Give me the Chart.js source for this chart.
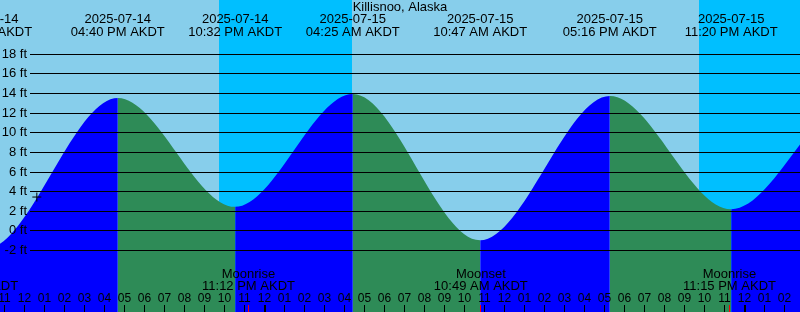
<!DOCTYPE html>
<html>
<head>
<meta charset="utf-8">
<script src="https://cdn.jsdelivr.net/npm/chart.js@4.4.1/dist/chart.umd.min.js"></script>
<style>
  html, body { margin: 0; padding: 0; background: #87ceeb; }
  #wrap { width: 800px; height: 312px; position: relative; }
</style>
</head>
<body>
<div id="wrap"><canvas id="tide"></canvas></div>
<script>
// =========================
// data
// =========================
const TITLE = "Killisnoo, Alaska";
const ZONE = "AKDT";

// high / low tides (first and last lie outside the view, they only shape the curve ends)
const tideTimes = ["2025-07-14 03:52", "2025-07-14 10:02", "2025-07-14 16:40", "2025-07-14 22:32",
                   "2025-07-15 04:25", "2025-07-15 10:47", "2025-07-15 17:16", "2025-07-15 23:20",
                   "2025-07-16 05:35", "2025-07-16 11:25"];
const tideHeights = [13.2, -1.9, 13.5, 2.4, 13.9, -1.0, 13.7, 2.15, 13.6, -0.5];

// moon events
const moonTimes = ["2025-07-14 09:20", "2025-07-14 23:12", "2025-07-15 10:49", "2025-07-15 23:15"];
const moonNames = ["Moonset", "Moonrise", "Moonset", "Moonrise"];

// night (sunset -> sunrise)
const nightStart = ["2025-07-14 21:43", "2025-07-15 21:43"];
const nightEnd = ["2025-07-15 04:22", "2025-07-16 04:22"];

// grid lines in feet
const gridFeet = [-2, 0, 2, 4, 6, 8, 10, 12, 14, 16, 18];

// "now" marker
const nowTime = "2025-07-14 12:37";
const nowHeight = 3.4;

// view window, hours since 2025-07-14 00:00 / feet
const X_MIN = 10.775, X_MAX = 50.775;
const Y_MIN = -8.31, Y_MAX = 23.47;

const DAY = "#87ceeb";
const NIGHT = "#00bfff";
const FLOOD = "#0000ff";
const EBB = "#2e8b57";
const FONT = "13px 'Liberation Sans', Arial, sans-serif";
const HOUR_FONT = "12px 'Liberation Sans', Arial, sans-serif";

// =========================
// helpers
// =========================
function toHours(s) {
  const [d, t] = s.split(" ");
  const day = Number(d.slice(8)) - 14;
  const [hh, mm] = t.split(":").map(Number);
  return day * 24 + hh + mm / 60;
}

function clock(s) {
  const [hh, mm] = s.split(" ")[1].split(":").map(Number);
  let h12 = hh % 12;
  if (h12 === 0) h12 = 12;
  return String(h12).padStart(2, "0") + ":" + String(mm).padStart(2, "0") + (hh < 12 ? " AM " : " PM ") + ZONE;
}

// =========================
// drawing plugin (background, grid, labels)
// =========================
const tidePlugin = {
  id: "tideDecor",
  beforeDatasetsDraw(chart) {
    const { ctx, scales: { x } } = chart;
    ctx.save();
    ctx.fillStyle = DAY;
    ctx.fillRect(0, 0, chart.width, chart.height);
    ctx.fillStyle = NIGHT;
    nightStart.forEach((s, i) => {
      const a = Math.round(x.getPixelForValue(toHours(s)));
      const b = Math.round(x.getPixelForValue(toHours(nightEnd[i])));
      ctx.fillRect(a, 0, b - a, chart.height);
    });
    ctx.restore();
  },
  afterDatasetsDraw(chart) {
    const { ctx, scales: { x, y } } = chart;
    ctx.save();

    // grid lines + feet labels
    ctx.font = FONT;
    ctx.fillStyle = "#000";
    ctx.textAlign = "right";
    ctx.textBaseline = "middle";
    gridFeet.forEach(v => {
      const py = Math.round(y.getPixelForValue(v));
      ctx.fillRect(30, py, chart.width - 30, 1);
      ctx.fillText(v + " ft", 27, py + 0.5);
    });

    // title
    ctx.textAlign = "center";
    ctx.textBaseline = "alphabetic";
    ctx.fillText(TITLE, 400, 11);

    // tide event labels
    tideTimes.forEach(s => {
      const px = x.getPixelForValue(toHours(s));
      ctx.fillText(s.split(" ")[0], px, 23);
      ctx.fillText(clock(s), px, 36);
    });

    // moon labels
    moonTimes.forEach((s, i) => {
      const px = x.getPixelForValue(toHours(s));
      ctx.fillText(moonNames[i], px, 278);
      ctx.fillText(clock(s), px, 290);
    });

    // hour ticks
    ctx.font = HOUR_FONT;
    for (let h = Math.ceil(X_MIN); h <= X_MAX; h++) {
      const px = x.getPixelForValue(h);
      let h12 = h % 12;
      if (h12 === 0) h12 = 12;
      ctx.fillStyle = "#000";
      ctx.fillText(String(h12).padStart(2, "0"), px, 302);
      if (h % 24 === 0) {
        ctx.fillRect(Math.floor(px), 305, 2, 7);
      } else {
        ctx.fillRect(Math.floor(px), 305, 1, 7);
      }
    }

    // moon ticks
    ctx.fillStyle = "#ff0000";
    moonTimes.forEach(s => {
      const px = x.getPixelForValue(toHours(s));
      ctx.fillRect(Math.floor(px), 305, 1, 7);
    });

    ctx.restore();
  }
};

// =========================
// chart
// =========================
const tidePoints = tideTimes.map((s, i) => ({ x: toHours(s), y: tideHeights[i] }));

new Chart(document.getElementById("tide").getContext("2d"), {
  type: "line",
  data: {
    datasets: [
      {
        data: [{ x: toHours(nowTime), y: nowHeight }],
        showLine: false,
        pointStyle: "cross",
        pointRadius: 4.5,
        borderColor: "#000",
        borderWidth: 1,
        order: -1
      },
      {
        data: tidePoints,
        fill: "start",
        backgroundColor: FLOOD,
        borderColor: "rgba(0,0,0,0)",
        borderWidth: 0,
        pointRadius: 0,
        cubicInterpolationMode: "monotone",
        segment: {
          backgroundColor: c => (c.p1.parsed.y > c.p0.parsed.y ? FLOOD : EBB)
        }
      }
    ]
  },
  options: {
    responsive: true,
    maintainAspectRatio: false,
    animation: false,
    layout: { padding: 0, autoPadding: false },
    plugins: {
      legend: { display: false },
      tooltip: { enabled: false }
    },
    scales: {
      x: { type: "linear", min: X_MIN, max: X_MAX, display: false },
      y: { min: Y_MIN, max: Y_MAX, display: false }
    }
  },
  plugins: [tidePlugin]
});
</script>
</body>
</html>
